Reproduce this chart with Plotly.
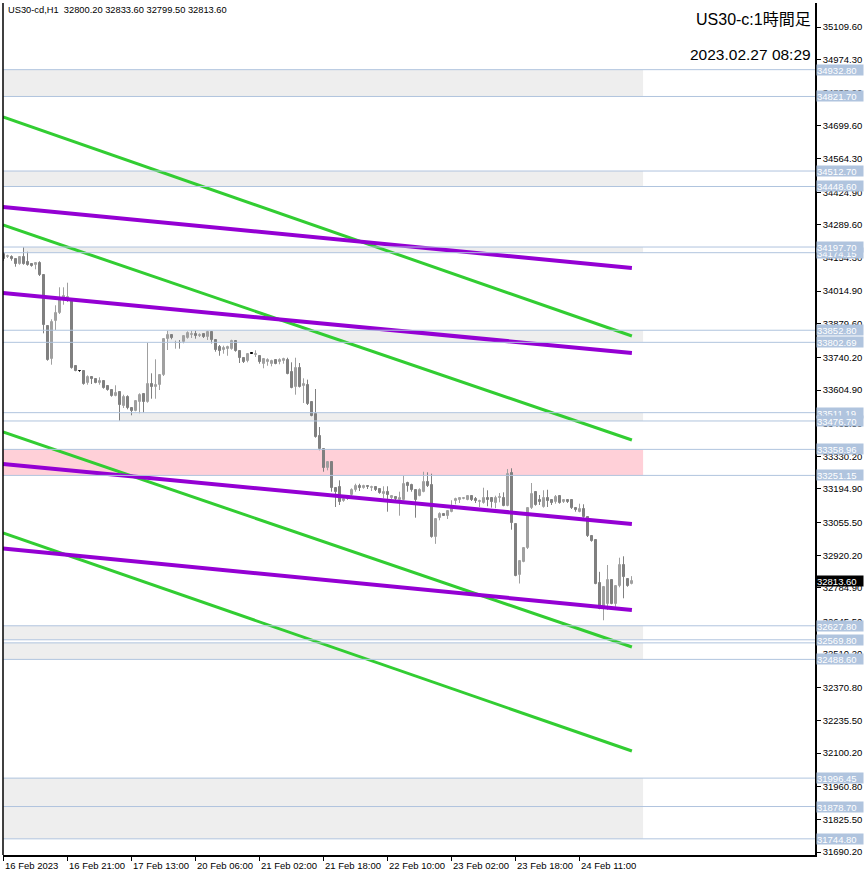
import plotly.graph_objects as go

# ---------------- data ----------------
opens = [
    34168.7, 34156.3, 34157.5, 34146.7, 34127.3, 34157.5, 34135.6, 34127.3, 34121.9, 34132.7,
    34082.9, 33870.3, 33734.8, 33889.8, 33922.9, 33978.1, 33981.0, 33983.5, 33704.6, 33682.6,
    33685.1, 33632.8, 33657.7, 33649.4, 33635.3, 33643.6, 33621.7, 33605.1, 33580.2, 33596.8,
    33538.8, 33577.3, 33530.5, 33519.3, 33555.3, 33588.5, 33555.3, 33629.9, 33618.7, 33624.6,
    33666.0, 33817.7, 33831.8, 33799.9, 33801.1, 33804.0, 33820.6, 33831.8, 33837.2, 33828.9,
    33837.2, 33824.7, 33846.7, 33813.5, 33783.3, 33772.1, 33775.0, 33775.0, 33808.2, 33766.7,
    33738.9, 33725.3, 33755.5, 33752.2, 33747.1, 33714.1, 33722.3, 33714.1, 33728.2, 33719.9,
    33725.3, 33730.6, 33680.9, 33617.5, 33695.0, 33620.4, 33625.8, 33556.6, 33504.4, 33413.2,
    33360.5, 33283.0, 33307.9, 33197.6, 33203.1, 33144.6, 33153.3, 33169.9, 33191.8, 33208.4,
    33200.1, 33208.4, 33197.6, 33203.1, 33194.7, 33172.7, 33183.6, 33156.2, 33161.6, 33150.4,
    33150.4, 33219.6, 33211.2, 33191.8, 33167.0, 33183.6, 33225.0, 33211.2, 32995.8, 33073.3,
    33090.2, 33084.4, 33100.7, 33145.0, 33147.9, 33154.6, 33150.4, 33164.5, 33153.3, 33141.7,
    33136.8, 33158.7, 33156.2, 33136.8, 33158.3, 33158.7, 33125.6, 33261.1, 33051.0, 32838.4,
    32893.5, 32949.0, 33114.9, 33181.0, 33150.4, 33120.2, 33158.7, 33147.9, 33142.1, 33164.5,
    33139.6, 33147.9, 33147.9, 33117.3, 33100.7, 33111.9, 33078.8, 33001.3, 32982.1, 32805.1,
    32699.2, 32716.9, 32816.3, 32719.4, 32792.0, 32879.8, 32821.7, 32800.2]

highs = [
    34177.0, 34165.8, 34163.3, 34149.3, 34160.4, 34196.5, 34178.3, 34131.5, 34135.6, 34138.5,
    34085.8, 33872.4, 33898.1, 33956.1, 34030.7, 34030.7, 34049.8, 33986.4, 33708.7, 33683.9,
    33685.1, 33665.9, 33663.0, 33651.9, 33657.7, 33646.5, 33624.6, 33608.0, 33624.6, 33598.9,
    33585.6, 33583.1, 33532.6, 33560.7, 33591.4, 33590.6, 33801.1, 33674.3, 33732.3, 33668.5,
    33819.3, 33850.8, 33837.2, 33809.4, 33812.3, 33831.8, 33848.3, 33850.8, 33850.8, 33840.0,
    33840.0, 33850.8, 33849.6, 33816.4, 33791.6, 33788.7, 33788.7, 33813.5, 33811.0, 33769.6,
    33741.9, 33758.4, 33756.5, 33769.6, 33750.0, 33736.5, 33736.5, 33730.6, 33730.6, 33736.5,
    33738.9, 33738.9, 33719.9, 33738.9, 33717.0, 33653.6, 33648.0, 33558.2, 33609.2, 33451.7,
    33360.5, 33310.8, 33310.8, 33203.1, 33230.8, 33158.3, 33169.9, 33197.6, 33216.6, 33216.6,
    33212.5, 33211.2, 33208.4, 33207.2, 33197.6, 33205.9, 33205.9, 33169.9, 33164.5, 33183.6,
    33249.9, 33225.0, 33216.6, 33194.7, 33197.6, 33266.4, 33264.0, 33258.2, 33073.3, 33098.1,
    33091.5, 33106.5, 33148.0, 33158.7, 33161.6, 33161.6, 33167.0, 33167.0, 33161.6, 33150.4,
    33200.1, 33189.4, 33161.6, 33167.0, 33178.1, 33181.0, 33277.7, 33280.6, 33051.0, 32899.3,
    32954.4, 33117.3, 33219.6, 33186.5, 33169.9, 33189.4, 33191.8, 33150.4, 33169.9, 33165.8,
    33150.4, 33153.3, 33150.4, 33120.2, 33133.9, 33131.4, 33078.8, 33004.2, 32984.6, 32851.4,
    32792.9, 32879.8, 32818.8, 32795.8, 32910.0, 32915.8, 32824.6, 32833.6]

lows = [
    34139.8, 34152.1, 34141.0, 34116.1, 34124.4, 34124.4, 34120.2, 34116.1, 34105.2, 34077.5,
    33840.0, 33726.5, 33709.9, 33853.7, 33920.0, 33958.6, 33969.8, 33693.4, 33682.6, 33681.0,
    33627.0, 33627.0, 33629.9, 33632.8, 33627.0, 33610.5, 33602.2, 33577.3, 33578.9, 33477.8,
    33530.5, 33525.1, 33500.2, 33516.8, 33508.5, 33511.0, 33552.4, 33569.0, 33569.0, 33605.1,
    33663.0, 33770.9, 33815.2, 33776.3, 33776.3, 33798.6, 33817.7, 33820.6, 33817.7, 33824.7,
    33820.6, 33812.3, 33797.8, 33763.8, 33747.1, 33755.5, 33747.1, 33772.1, 33763.8, 33717.0,
    33717.0, 33719.9, 33754.5, 33741.9, 33714.1, 33695.0, 33705.7, 33703.2, 33711.6, 33711.6,
    33714.1, 33670.1, 33612.1, 33585.6, 33615.4, 33551.1, 33542.9, 33496.1, 33407.4, 33355.1,
    33266.4, 33272.2, 33183.6, 33120.2, 33128.5, 33141.7, 33149.2, 33167.0, 33183.6, 33186.5,
    33195.9, 33194.7, 33186.5, 33186.5, 33175.2, 33156.2, 33100.7, 33153.3, 33142.1, 33084.1,
    33147.9, 33183.6, 33183.6, 33075.8, 33164.5, 33181.0, 33203.1, 32992.9, 32967.5, 33065.0,
    33083.2, 33070.4, 33098.2, 33131.2, 33136.8, 33152.1, 33147.9, 33145.0, 33136.8, 33120.2,
    33133.9, 33123.3, 33117.5, 33115.0, 33139.6, 33123.1, 33123.1, 33026.1, 32833.0, 32803.1,
    32891.0, 32946.1, 33112.0, 33125.6, 33128.5, 33117.3, 33120.2, 33128.5, 33133.9, 33133.9,
    33136.8, 33136.8, 33112.0, 33100.7, 33098.2, 33075.8, 32995.8, 32976.4, 32799.8, 32696.3,
    32650.6, 32693.6, 32716.9, 32706.5, 32787.4, 32741.8, 32789.5, 32799.5]

closes = [
    34148.0, 34160.4, 34146.7, 34127.3, 34157.5, 34127.3, 34121.9, 34119.0, 34132.7, 34080.4,
    33873.2, 33729.4, 33886.9, 33922.9, 33978.1, 33994.7, 33991.8, 33696.3, 33685.1, 33682.6,
    33629.9, 33657.7, 33649.4, 33635.3, 33643.6, 33613.4, 33605.1, 33580.2, 33593.9, 33544.1,
    33574.8, 33530.5, 33516.8, 33558.2, 33585.6, 33555.3, 33629.9, 33618.7, 33627.0, 33666.0,
    33817.7, 33831.8, 33820.6, 33801.1, 33799.0, 33828.9, 33840.0, 33837.2, 33828.9, 33834.3,
    33824.7, 33843.8, 33813.5, 33769.6, 33766.7, 33780.4, 33783.3, 33808.2, 33766.7, 33736.5,
    33722.3, 33755.5, 33755.5, 33753.5, 33719.9, 33733.6, 33730.6, 33725.3, 33714.1, 33730.6,
    33733.6, 33672.6, 33614.6, 33695.0, 33617.5, 33628.7, 33548.3, 33498.6, 33410.3, 33360.5,
    33283.0, 33305.4, 33200.1, 33183.6, 33142.1, 33155.4, 33165.8, 33191.8, 33205.9, 33200.1,
    33208.4, 33203.1, 33203.1, 33189.4, 33178.1, 33183.6, 33169.9, 33167.0, 33153.3, 33158.7,
    33214.2, 33205.9, 33189.4, 33147.9, 33189.4, 33225.0, 33205.9, 32995.8, 33070.4, 33092.3,
    33084.4, 33103.6, 33114.9, 33153.3, 33156.2, 33158.7, 33164.5, 33147.9, 33145.0, 33143.4,
    33158.7, 33150.4, 33142.1, 33158.7, 33160.0, 33125.6, 33255.7, 33053.9, 32835.5, 32896.4,
    32949.0, 33114.9, 33175.2, 33128.5, 33139.6, 33156.2, 33145.0, 33136.8, 33161.6, 33136.8,
    33147.9, 33139.6, 33114.9, 33106.5, 33111.9, 33078.8, 32998.8, 32979.3, 32802.3, 32699.2,
    32787.4, 32816.3, 32719.4, 32792.0, 32879.8, 32830.1, 32792.0, 32813.6]

x_tick_bars = [0, 16, 32, 48, 64, 80, 96, 112, 128, 144]
x_tick_labels = ["16 Feb 2023", "16 Feb 21:00", "17 Feb 13:00", "20 Feb 06:00", "21 Feb 02:00",
                 "21 Feb 18:00", "22 Feb 10:00", "23 Feb 02:00", "23 Feb 18:00", "24 Feb 11:00"]

y_tick_values = [35109.60, 34974.30, 34838.90, 34699.60, 34564.30, 34424.90, 34289.60, 34154.30,
                 34014.90, 33879.60, 33740.20, 33604.90, 33465.50, 33330.20, 33194.90, 33055.50,
                 32920.20, 32784.90, 32645.50, 32510.20, 32370.80, 32235.50, 32100.20, 31960.80,
                 31825.50, 31690.20]

# trend lines: start price (left edge) / end price (at end bar)
green_start = [34736.6, 34288.9, 33431.0, 33012.4]
green_end = [33828.9, 33397.8, 32539.9, 32108.8]
purple_start = [34363.5, 34007.1, 33298.4, 32948.1]
purple_end = [34110.7, 33758.4, 33049.7, 32693.2]
trend_start_bar = -0.125
trend_end_bar = 157.1

# horizontal levels (drawn with labels)
levels = [34932.80, 34821.70, 34512.70, 34448.60, 34174.15, 34197.70, 33852.80, 33802.69,
          33511.19, 33476.70, 33358.96, 33251.15, 32627.80, 32557.00, 32569.80, 32488.60,
          31996.45, 31878.70, 31744.80]
level_labels = ["34932.80", "34821.70", "34512.70", "34448.60", "34174.15", "34197.70", "33852.80",
                "33802.69", "33511.19", "33476.70", "33358.96", "33251.15", "32627.80", "",
                "32569.80", "32488.60", "31996.45", "31878.70", "31744.80"]

# zones (rectangles)
zone_low = [34821.70, 34448.60, 34174.15, 33802.69, 33476.70, 33251.15, 32569.80, 32488.60, 31878.70, 31744.80]
zone_high = [34932.80, 34512.70, 34197.70, 33852.80, 33511.19, 33358.96, 32627.80, 32557.00, 31996.45, 31878.70]
zone_start_bar = [-0.125, -0.125, 5, 41, 29, -0.125, -0.125, -0.125, -0.125, -0.125]
zone_color = ["#EEEEEE"] * 5 + ["#FFD0D8"] + ["#EEEEEE"] * 4
zone_end_bar = 159.9

symbol_header = "US30-cd,H1  32800.20 32833.60 32799.50 32813.60"
title_text = "US30-c:1時間足"
date_text = "2023.02.27 08:29"

# ---------------- figure ----------------
FONT = "Liberation Sans, Arial, sans-serif"
BULL = "#A0A0A0"
BEAR = "#808080"

n = len(opens)
idx = list(range(n))

fig = go.Figure()


def wick_trace(sel, color):
    xs, ys = [], []
    for i in sel:
        xs += [i, i, None]
        ys += [lows[i], highs[i], None]
    return go.Scatter(x=xs, y=ys, mode="lines", line=dict(color=color, width=1),
                      hoverinfo="skip", showlegend=False)


doji = [i for i in idx if abs(closes[i] - opens[i]) < 0.5]
bull = [i for i in idx if closes[i] - opens[i] >= 0.5]
bear = [i for i in idx if opens[i] - closes[i] >= 0.5]

fig.add_trace(wick_trace(bear, BEAR))
fig.add_trace(wick_trace(bull, BULL))
fig.add_trace(wick_trace(doji, "#000000"))


def body_trace(sel, fill, line):
    return go.Bar(x=sel,
                  base=[min(opens[i], closes[i]) for i in sel],
                  y=[max(abs(closes[i] - opens[i]), 1.0) for i in sel],
                  width=0.5, marker=dict(color=fill, line=dict(color=line, width=1)),
                  hoverinfo="skip", showlegend=False)


fig.add_trace(body_trace(bear, BEAR, BEAR))
fig.add_trace(body_trace(bull, "#FFFFFF", BULL))
fig.add_trace(body_trace(doji, "#000000", "#000000"))

# trend lines
for s, e in zip(green_start, green_end):
    fig.add_trace(go.Scatter(x=[trend_start_bar, trend_end_bar], y=[s, e], mode="lines",
                             line=dict(color="#32CD32", width=3), hoverinfo="skip", showlegend=False))
for s, e in zip(purple_start, purple_end):
    fig.add_trace(go.Scatter(x=[trend_start_bar, trend_end_bar], y=[s, e], mode="lines",
                             line=dict(color="#9400D3", width=4), hoverinfo="skip", showlegend=False))

shapes = []
for lo, hi, st, col in zip(zone_low, zone_high, zone_start_bar, zone_color):
    shapes.append(dict(type="rect", xref="x", yref="y", x0=st, x1=zone_end_bar, y0=lo, y1=hi,
                       fillcolor=col, line=dict(width=0), layer="below"))
for lv in levels:
    shapes.append(dict(type="line", xref="paper", yref="y", x0=0, x1=1, y0=lv, y1=lv,
                       line=dict(color="#B0C4DE", width=1), layer="above"))
shapes.append(dict(type="line", xref="paper", yref="paper", x0=0, x1=0, y0=0, y1=1,
                   line=dict(color="#000000", width=1.5)))

annotations = []
for lv, lab in zip(levels, level_labels):
    if not lab:
        continue
    annotations.append(dict(xref="paper", yref="y", x=1, y=lv, xanchor="left", yanchor="middle",
                            xshift=1, text=lab, showarrow=False, align="left",
                            font=dict(family=FONT, size=9.5, color="#FFFFFF"),
                            bgcolor="#B0C4DE", borderpad=0, width=46, height=10))
annotations.append(dict(xref="paper", yref="y", x=1, y=closes[-1], xanchor="left", yanchor="middle",
                        xshift=1, text=f"{closes[-1]:.2f}", showarrow=False, align="left",
                        font=dict(family=FONT, size=9.5, color="#FFFFFF"),
                        bgcolor="#000000", borderpad=0, width=46, height=10))
for b, lab in zip(x_tick_bars, x_tick_labels):
    annotations.append(dict(xref="x", yref="paper", x=b, y=0, xanchor="left", yanchor="top",
                            xshift=-1, yshift=-3, text=lab, showarrow=False,
                            font=dict(family=FONT, size=9.5, color="#000000")))
annotations.append(dict(xref="paper", yref="paper", x=0.004, y=0.992, xanchor="left", yanchor="middle",
                        text=symbol_header, showarrow=False,
                        font=dict(family=FONT, size=9.3, color="#000000")))
annotations.append(dict(xref="paper", yref="paper", x=0.9975, y=0.981, xanchor="right", yanchor="middle",
                        text=title_text, showarrow=False,
                        font=dict(family="Liberation Sans, Noto Sans CJK JP", size=16, color="#000000")))
annotations.append(dict(xref="paper", yref="paper", x=0.9975, y=0.939, xanchor="right", yanchor="middle",
                        text=date_text, showarrow=False,
                        font=dict(family="Liberation Sans, Arial", size=15.5, color="#000000")))

fig.update_layout(
    width=866, height=876,
    margin=dict(l=3, r=51, t=3, b=21),
    paper_bgcolor="#FFFFFF", plot_bgcolor="#FFFFFF",
    barmode="overlay", bargap=0,
    showlegend=False,
    shapes=shapes, annotations=annotations,
    xaxis=dict(range=[-0.125, 202.875], showgrid=False, zeroline=False,
               tickvals=x_tick_bars, ticktext=[""] * len(x_tick_bars), showticklabels=False,
               ticks="outside", ticklen=4, tickcolor="#000000", tickwidth=1,
               showline=True, linecolor="#000000", linewidth=1.5, fixedrange=True),
    yaxis=dict(range=[31677.8, 35209.1], side="right", showgrid=False, zeroline=False,
               tickvals=y_tick_values, ticktext=[f"{v:.2f}" for v in y_tick_values],
               ticks="outside", ticklen=4, tickcolor="#000000", tickwidth=1,
               tickfont=dict(family=FONT, size=9.5, color="#000000"),
               showline=True, linecolor="#000000", linewidth=1.5, fixedrange=True),
)

fig.write_html("out.html", config={"displayModeBar": False},
               post_script="document.body.style.margin='0px';")
